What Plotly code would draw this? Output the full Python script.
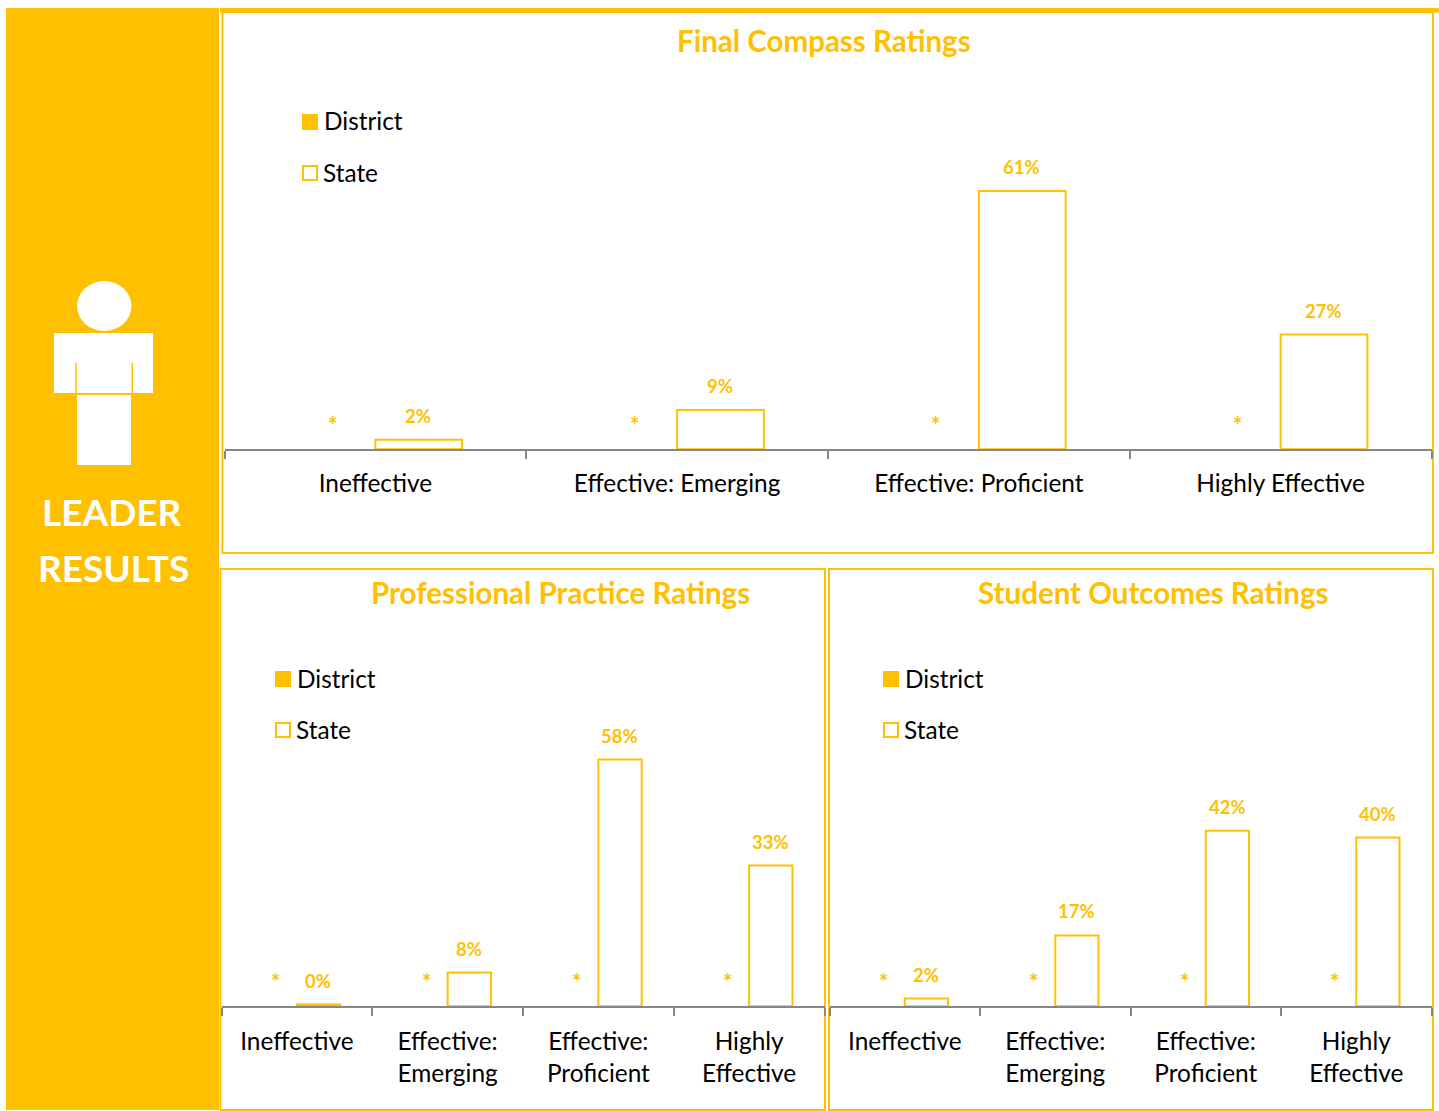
import plotly.graph_objects as go

W, H = 1439, 1111
AMBER = "#FFC000"
GREY = "#868686"
FONT = "Lato"

cats_wide = ["Ineffective", "Effective: Emerging", "Effective: Proficient", "Highly Effective"]
cats_narrow = ["Ineffective", "Effective:<br>Emerging", "Effective:<br>Proficient", "Highly<br>Effective"]

final_state = [2.2, 9.2, 60.6, 26.9]
final_labels = ["2%", "9%", "61%", "27%"]
practice_state = [0.4, 7.9, 57.9, 33]
practice_labels = ["0%", "8%", "58%", "33%"]
outcomes_state = [1.8, 16.6, 41.2, 39.6]
outcomes_labels = ["2%", "17%", "42%", "40%"]
district_masked = ["*", "*", "*", "*"]
legend_names = ["District", "State"]


def fx(p):
    return p / W


def fy(p):
    return 1 - p / H


fig = go.Figure()
shapes = []
annotations = []


def rect(x0, y0, x1, y1, fill=None, line=None, lw=2):
    shapes.append(dict(type="rect", xref="paper", yref="paper", x0=fx(x0), x1=fx(x1), y0=fy(y0), y1=fy(y1),
                       fillcolor=fill if fill else "rgba(0,0,0,0)",
                       line=dict(color=line if line else "rgba(0,0,0,0)", width=lw if line else 0), layer="below"))


panels = [
    dict(suffix="", cats=cats_wide, vals=final_state, labels=final_labels, x0=224.5, x1=1431.5, base=449.2,
         title="Final Compass Ratings", tx=824, ty=40, lx=302, ly=122, off=43, standoff=12),
    dict(suffix="2", cats=cats_narrow, vals=practice_state, labels=practice_labels, x0=221.5, x1=824.5, base=1006.2,
         title="Professional Practice Ratings", tx=560, ty=592, lx=275, ly=679, off=21.5, standoff=13),
    dict(suffix="3", cats=cats_narrow, vals=outcomes_state, labels=outcomes_labels, x0=829.5, x1=1431.5, base=1006.2,
         title="Student Outcomes Ratings", tx=1153, ty=592, lx=883, ly=679, off=21.5, standoff=13),
]

PX_PER_PCT = 4.26
layout_extra = {}
for p in panels:
    xa, ya = "x" + p["suffix"], "y" + p["suffix"]
    fig.add_trace(go.Bar(x=p["cats"], y=[None] * 4, name=legend_names[0], xaxis=xa, yaxis=ya,
                         marker=dict(color=AMBER, line=dict(color=AMBER, width=2)), hoverinfo="skip"))
    fig.add_trace(go.Bar(x=p["cats"], y=p["vals"], name=legend_names[1], xaxis=xa, yaxis=ya,
                         marker=dict(color="rgba(255,255,255,0)", line=dict(color=AMBER, width=2))))
    off = p["off"]
    for c, v, lab, star in zip(p["cats"], p["vals"], p["labels"], district_masked):
        annotations.append(dict(x=c, y=v, xref=xa, yref=ya, text="<b>%s</b>" % lab, showarrow=False,
                                xshift=off, yshift=24, yanchor="middle",
                                font=dict(family=FONT, size=18.5, color=AMBER)))
        annotations.append(dict(x=c, y=0, xref=xa, yref=ya, text="<b>%s</b>" % star, showarrow=False,
                                xshift=-off, yshift=25, yanchor="middle",
                                font=dict(family=FONT, size=22, color=AMBER)))
    annotations.append(dict(x=fx(p["tx"]), y=fy(p["ty"]), xref="paper", yref="paper", xanchor="center",
                            text="<b>%s</b>" % p["title"], showarrow=False, yanchor="middle",
                            font=dict(family=FONT, size=29.5, color=AMBER)))
    # legend key
    lx, ly = p["lx"], p["ly"]
    rect(lx, ly - 8, lx + 16, ly + 8, fill=AMBER)
    rect(lx + 1, ly + 44, lx + 15, ly + 58, line=AMBER)
    annotations.append(dict(x=fx(lx + 19.5), y=fy(ly - 1), xref="paper", yref="paper", xanchor="left", yanchor="middle",
                            text=legend_names[0], showarrow=False, font=dict(family=FONT, size=24.4, color="#000000")))
    annotations.append(dict(x=fx(lx + 19), y=fy(ly + 50), xref="paper", yref="paper", xanchor="left", yanchor="middle",
                            text=legend_names[1], showarrow=False, font=dict(family=FONT, size=24.4, color="#000000")))
    layout_extra["xaxis" + p["suffix"]] = dict(
        domain=[fx(p["x0"]), fx(p["x1"])], anchor=ya, type="category",
        categoryorder="array", categoryarray=p["cats"],
        tickson="boundaries", ticks="outside", ticklen=8, tickwidth=2, tickcolor=GREY,
        showline=True, linecolor=GREY, linewidth=2, showgrid=False, zeroline=False,
        ticklabelstandoff=p["standoff"], automargin=False,
        tickfont=dict(family=FONT, size=24.4, color="#000000"), tickangle=0)
    layout_extra["yaxis" + p["suffix"]] = dict(
        domain=[fy(p["base"]), fy(p["base"] - 100 * PX_PER_PCT)], anchor=xa, range=[0, 100],
        visible=False, fixedrange=True)

rect(6, 8, 219, 1110, fill=AMBER)
rect(220, 8, 1439, 12.5, fill=AMBER)
rect(222.5, 12, 1433, 553, line=AMBER)
rect(220.5, 569, 825, 1110, line=AMBER)
rect(829, 569, 1433, 1110, line=AMBER)
# person icon
shapes.append(dict(type="circle", xref="paper", yref="paper", x0=fx(77), x1=fx(131.5), y0=fy(281), y1=fy(331),
                   fillcolor="white", line=dict(width=0), layer="below"))
rect(54, 333, 153, 393, fill="white")
rect(75.3, 363, 76.8, 393, fill=AMBER)
rect(131.5, 363, 133, 393, fill=AMBER)
rect(77, 395, 131, 465, fill="white")

annotations.append(dict(x=fx(112), y=fy(512), xref="paper", yref="paper", xanchor="center", text="<b>LEADER</b>",
                        showarrow=False, font=dict(family=FONT, size=37, color="white")))
annotations.append(dict(x=fx(113), y=fy(567), xref="paper", yref="paper", xanchor="center", text="<b>RESULTS</b>",
                        showarrow=False, font=dict(family=FONT, size=37, color="white")))

fig.update_layout(width=W, height=H, autosize=False, margin=dict(l=0, r=0, t=0, b=0),
                  paper_bgcolor="white", plot_bgcolor="rgba(0,0,0,0)",
                  barmode="group", bargap=0.425, bargroupgap=0, showlegend=False,
                  shapes=shapes, annotations=annotations, **layout_extra)

fig.write_html("out.html", post_script="document.body.style.margin='0';", config={"displayModeBar": False})
